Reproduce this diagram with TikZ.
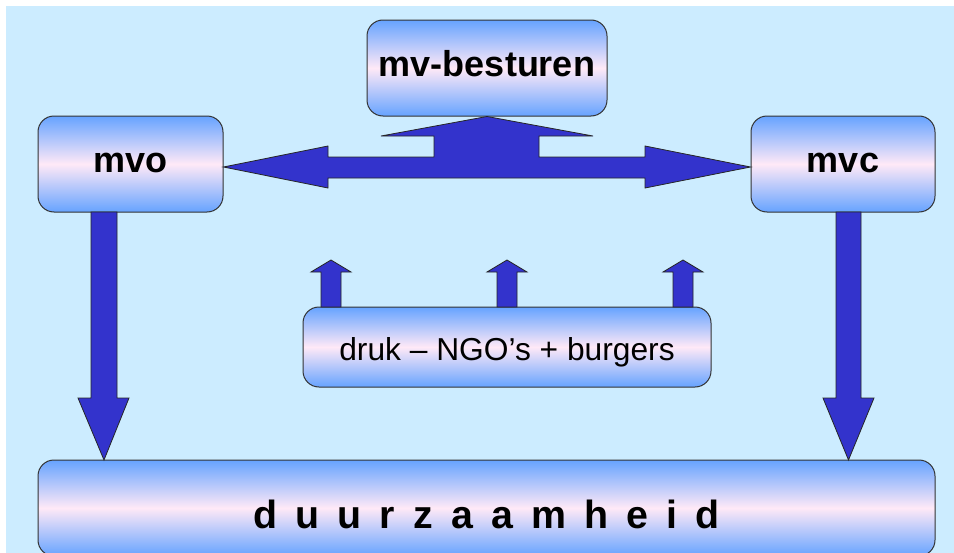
\documentclass[tikz,border=0pt]{standalone}
\usepackage{fontspec}
\setmainfont{Liberation Sans}
\usetikzlibrary{calc}
\definecolor{bgblue}{RGB}{204,236,255}
\definecolor{arrowblue}{RGB}{51,51,204}
\definecolor{boxtop}{RGB}{102,163,255}
\definecolor{boxmid}{RGB}{255,233,247}
\tikzset{box/.style = {draw = black!80, line width = 0.75pt, rounded corners = 12pt,
                       top color = boxtop, bottom color = boxtop, middle color = boxmid,
                       inner sep = 0, text depth = 0pt}}
\tikzset{blockarrow/.style = {fill = arrowblue, draw = black!85, line width = 0.6pt}}
\tikzset{boldlabel/.style = {font = \fontsize{27}{32}\selectfont\bfseries}}

\begin{document}
\begin{tikzpicture}[x = 0.75pt, y = -0.75pt]
      \useasboundingbox (0, 0) rectangle (954, 553);
      \clip (0, 0) rectangle (954, 553);
      \fill [bgblue] (6, 6) rectangle (954, 553);

      \node [box, boldlabel, minimum width = 180pt, minimum height = 72pt, text height = 12pt] (besturen) at (487, 68) {mv-besturen};
      \node [box, boldlabel, minimum width = 138.75pt, minimum height = 72pt, text height = 13pt] (mvo) at (130.5, 164) {mvo\hspace{12pt}};
      \node [box, boldlabel, minimum width = 138pt, minimum height = 72pt, text height = 13pt] (mvc) at (843, 164) {mvc\hspace{6pt}};
      \node [box, minimum width = 306pt, minimum height = 60pt, text height = 19.5pt,
             font = \fontsize{23.8}{28}\selectfont] (druk) at (507, 347) {druk – NGO’s + burgers};
      \node [box, minimum width = 672.75pt, minimum height = 72pt, text height = 30pt,
             font = \fontsize{29.5}{34}\selectfont\bfseries] (duurzaamheid) at (486.5, 508) {\spaceskip=13.6pt\relax d u u r z a a m h e i d};

      \filldraw [blockarrow] ([yshift = -2.25pt] mvo.east) -- (328, 146) -- (328, 157) -- (434, 157) -- (434, 136) -- (381, 136)
      -- (besturen.south) -- (593, 136) -- (539, 136) -- (539, 157) -- (645, 157) -- (645, 146)
      -- ([yshift = -2.25pt] mvc.west) -- (645, 188) -- (645, 178) -- (328, 178) -- (328, 188) -- cycle;

      \filldraw [blockarrow] (91, 212) -- (117, 212) -- (117, 398) -- (129, 398) -- (104, 460) -- (78, 398) -- (91, 398) -- cycle;
      \filldraw [blockarrow] (836, 212) -- (861, 212) -- (861, 398) -- (874, 398) -- (848.5, 460) -- (823, 398) -- (836, 398) -- cycle;

      \foreach \cx in {331, 507, 683}
        \filldraw [blockarrow] (\cx - 10, 307) -- (\cx - 10, 272) -- (\cx - 20, 272) -- (\cx, 260)
        -- (\cx + 20, 272) -- (\cx + 10, 272) -- (\cx + 10, 307) -- cycle;
    \end{tikzpicture}
\end{document}
